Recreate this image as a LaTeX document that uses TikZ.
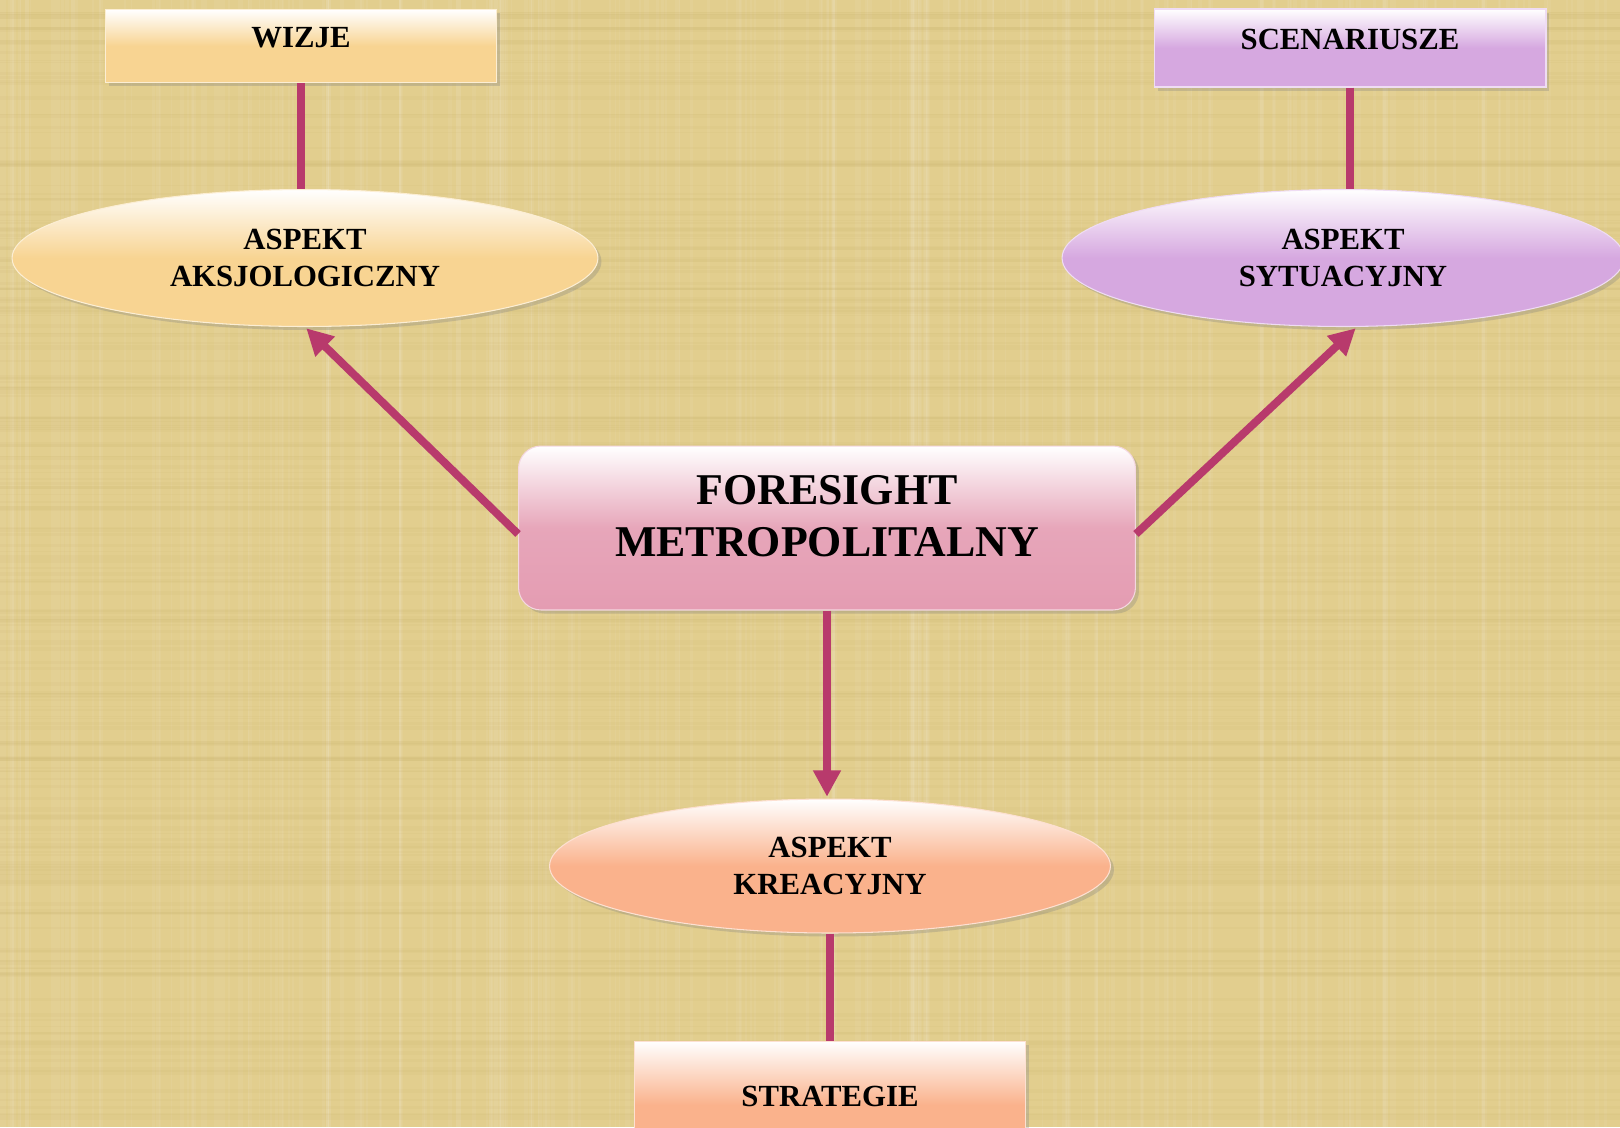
\documentclass[tikz,border=0pt]{standalone}
\usepackage{fontspec}
\setmainfont{Liberation Serif}
\usetikzlibrary{positioning, shapes.geometric, arrows.meta, shadows}

\definecolor{papyrus}{RGB}{226,206,142}
\definecolor{papyrusdark}{RGB}{190,165,95}
\definecolor{linkred}{RGB}{184,58,108}
\definecolor{creamorange}{RGB}{248,212,146}
\definecolor{lilac}{RGB}{214,168,224}
\definecolor{rosepink}{RGB}{228,156,178}
\definecolor{salmon}{RGB}{250,178,140}

\tikzset{
  softshadow/.style={drop shadow={shadow xshift=2pt, shadow yshift=-2pt, opacity=0.3}},
  bevelbox/.style={rectangle, draw=white!60!#1, line width=0.6pt,
    top color=white, bottom color=#1, middle color=#1,
    minimum width=7.84cm, minimum height=1.46cm, inner sep=0pt,
    font=\fontsize{17.5}{21}\selectfont\bfseries,
    text height=0.44cm, text depth=0.4cm, softshadow},
  aspect/.style={ellipse, draw=white!60!#1, line width=0.6pt,
    top color=white, bottom color=#1, middle color=#1,
    inner sep=0pt, align=center,
    font=\fontsize{17.5}{21}\selectfont\bfseries, softshadow},
  link/.style={linkred, line width=4.5pt},
  linkarrow/.style={link, -{Triangle[length=15pt,width=15pt]}, shorten >=1pt}
}

\begin{document}
\begin{tikzpicture}[x=0.02cm, y=-0.02cm]
  \useasboundingbox (0,0) rectangle (1620,1127);
  \fill[papyrus] (0,0) rectangle (1620,1127);

  % papyrus texture
  \pgfmathsetseed{11}
  \foreach \i in {1,...,260} {
    \pgfmathsetmacro\xx{rnd*1620}
    \pgfmathsetmacro\ww{1+rnd*4}
    \fill[white, opacity=0.06] (\xx,0) rectangle ++(\ww,1127);
  }
  \foreach \i in {1,...,200} {
    \pgfmathsetmacro\yy{rnd*1127}
    \pgfmathsetmacro\hh{1+rnd*4}
    \fill[papyrusdark, opacity=0.07] (0,\yy) rectangle ++(1620,\hh);
  }

  % boxes and aspects
  \node[bevelbox=creamorange] (wizje) at (301,46) {WIZJE};
  \node[bevelbox=lilac, minimum height=1.56cm] (scen) at (1350,48) {SCENARIUSZE};
  \node[aspect=creamorange, minimum width=11.72cm, minimum height=2.74cm] (aksjo) at (305,258) {ASPEKT\\AKSJOLOGICZNY};
  \node[aspect=lilac, minimum width=11.24cm, minimum height=2.74cm] (sytu) at (1343,258) {ASPEKT\\SYTUACYJNY};
  \node[rectangle, rounded corners=0.45cm, draw=white!60!rosepink, line width=0.6pt,
        top color=white, bottom color=rosepink, middle color=rosepink!90!white,
        minimum width=12.34cm, minimum height=3.28cm, align=center, text depth=0.48cm,
        font=\fontsize{25}{29.5}\selectfont\bfseries, softshadow] (fm) at (827,528) {FORESIGHT\\METROPOLITALNY};
  \node[aspect=salmon, minimum width=11.22cm, minimum height=2.68cm] (kreac) at (830,866) {ASPEKT\\KREACYJNY};
  \node[bevelbox=salmon, minimum height=2.56cm] (strat) at (830,1105) {STRATEGIE};

  % connectors
  \draw[link] (wizje.south) -- (wizje.south |- aksjo.north);
  \draw[link] (scen.south) -- (scen.south |- sytu.north);
  \draw[link] (kreac.south) -- (kreac.south |- strat.north);
  \draw[linkarrow] ([yshift=-0.12cm]fm.west) -- (aksjo.south);
  \draw[linkarrow] ([yshift=-0.12cm]fm.east) -- ([xshift=0.28cm]sytu.south);
  \draw[linkarrow] (fm.south) -- (fm.south |- kreac.north);
\end{tikzpicture}
\end{document}
